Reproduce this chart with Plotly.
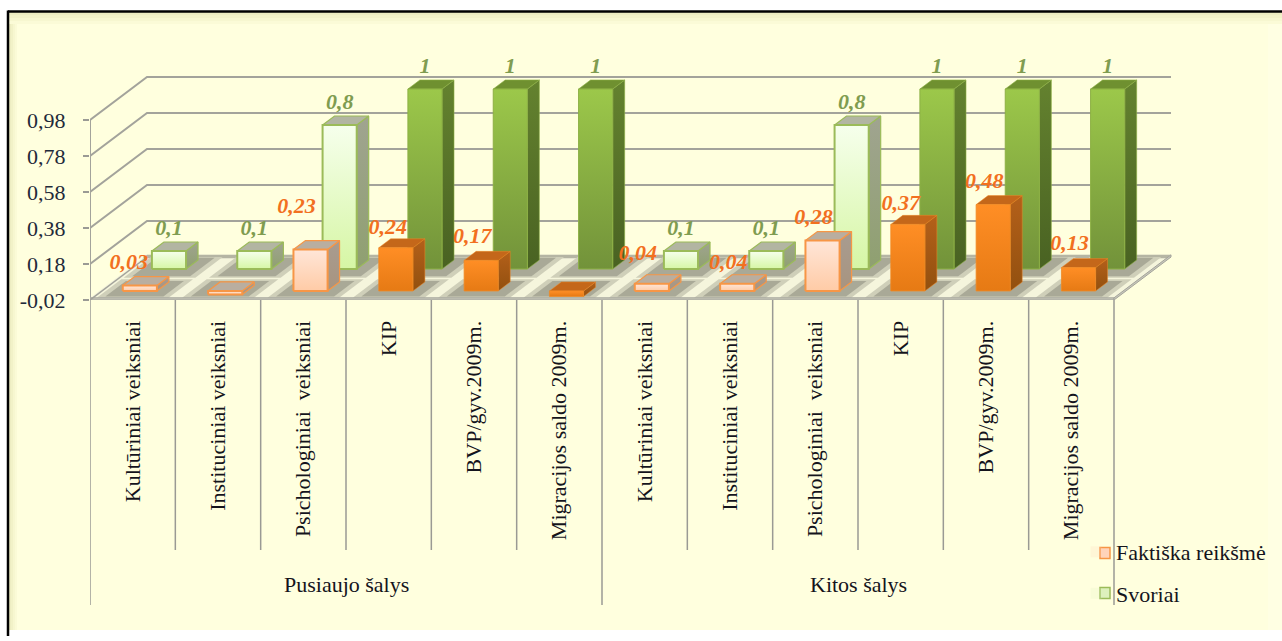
import plotly.graph_objects as go

# ---- data ----
categories = ["Kultūriniai veiksniai", "Instituciniai veiksniai", "Psichologiniai  veiksniai",
              "KIP", "BVP/gyv.2009m.", "Migracijos saldo 2009m."] * 2
groups = ["Pusiaujo šalys", "Kitos šalys"]
actual_values = [0.03, -0.02, 0.23, 0.24, 0.17, -0.03, 0.04, 0.04, 0.28, 0.37, 0.48, 0.13]
actual_labels = ["0,03", "-0,02", "0,23", "0,24", "0,17", "-0,03", "0,04", "0,04", "0,28", "0,37", "0,48", "0,13"]
weight_values = [0.1, 0.1, 0.8, 1, 1, 1, 0.1, 0.1, 0.8, 1, 1, 1]
weight_labels = ["0,1", "0,1", "0,8", "1", "1", "1", "0,1", "0,1", "0,8", "1", "1", "1"]
y_ticks = [-0.02, 0.18, 0.38, 0.58, 0.78, 0.98]
y_tick_labels = ["-0,02", "0,18", "0,38", "0,58", "0,78", "0,98"]
series_names = ["Faktiška reikšmė", "Svoriai"]

# ---- geometry / style ----
W, H = 1282, 641
LEFT, AXIS_Y = 90, 300          # pixel position of plot origin
PX_X, PX_Y = 1024 / 12, 180     # pixels per category / per value unit
DX, DY = 57 / PX_X, 43 / PX_Y   # chart depth in data units
HALF = 0.2                      # half bar width (categories)
FRONT_T = (0.126, 0.336)        # depth span of the front series
BACK_T = (0.637, 0.847)         # depth span of the back series
FLOOR_TOP = -0.008
BASE = -0.02
BG = "#FFFFDE"
SERIF = "Liberation Serif"
FS = 22
TXT = "#14141C"

PALE_O = dict(front=["#FFE6D8", "#FFCBA6"], side=["#A89C90", "#A8947F"], top="#B9AEA0", line="#F79646", lw=2)
SAT_O = dict(front=["#FF8E25", "#E67A14"], side=["#B4601A", "#92500F"], top="#C4671A", line="#F08A25", lw=0.8)
PALE_G = dict(front=["#F6FFEC", "#D6F6A4"], side=["#A0A490", "#8FA070"], top="#B2B5A2", line="#9BBB59", lw=2)
SAT_G = dict(front=["#9CC84A", "#72923A"], side=["#64822F", "#496222"], top="#6F9030", line="#8DB045", lw=1)
ORANGE_STYLE = [PALE_O] * 3 + [SAT_O] * 3 + [PALE_O] * 3 + [SAT_O] * 3
GREEN_STYLE = [PALE_G] * 3 + [SAT_G] * 3 + [PALE_G] * 3 + [SAT_G] * 3
# label nudges in pixels, relative to the bar's top-centre
ORANGE_NUDGE = [(-11, -22), (-26, 25), (-14, -42), (-8, -19), (-9, -23), (-33, 22),
                (-14, -29), (-9, -20), (-9, -22), (-7, -20), (-9, -22), (-9, -23)]

fig = go.Figure()


def poly(xs, ys, fill, line=None, lw=0, grad=None):
    tr = dict(x=list(xs) + [xs[0]], y=list(ys) + [ys[0]], mode="lines", fill="toself",
              showlegend=False, hoverinfo="skip",
              line=dict(color=line or "rgba(0,0,0,0)", width=lw))
    if grad:
        tr["fillgradient"] = dict(type="vertical", colorscale=[[0, grad[1]], [1, grad[0]]])
    else:
        tr["fillcolor"] = fill
    fig.add_trace(go.Scatter(**tr))


def seg(xs, ys, color="#A3A39B", w=2):
    fig.add_trace(go.Scatter(x=xs, y=ys, mode="lines", showlegend=False, hoverinfo="skip",
                             line=dict(color=color, width=w)))


def floor_quad(x0, x1, t0, t1, fill):
    z = FLOOR_TOP
    poly([x0 + t0 * DX, x1 + t0 * DX, x1 + t1 * DX, x0 + t1 * DX],
         [z + t0 * DY, z + t0 * DY, z + t1 * DY, z + t1 * DY], fill)


def bar(i, v, t, st):
    c = i + 0.5
    x0, x1 = c - HALF, c + HALF
    hi, lo = max(v, 0), min(v, 0)
    ox, oy = t[0] * DX, t[0] * DY
    bx, by = (t[1] - t[0]) * DX, (t[1] - t[0]) * DY
    # side, top, front
    poly([x1 + ox, x1 + ox + bx, x1 + ox + bx, x1 + ox], [lo + oy, lo + oy + by, hi + oy + by, hi + oy],
         None, st["line"], st["lw"] * 0.6, grad=st["side"])
    poly([x0 + ox, x1 + ox, x1 + ox + bx, x0 + ox + bx], [hi + oy, hi + oy, hi + oy + by, hi + oy + by],
         st["top"], st["line"], st["lw"] * 0.6)
    poly([x0 + ox, x1 + ox, x1 + ox, x0 + ox], [lo + oy, lo + oy, hi + oy, hi + oy],
         None, st["line"], st["lw"], grad=st["front"])


# walls: back grid + left diagonal grid + vertical axis
for tk in y_ticks:
    seg([0, DX, 12 + DX], [tk, tk + DY, tk + DY])
seg([0, 0], [y_ticks[0], y_ticks[-1]])

# floor slab
poly([0, 12, 12 + DX, DX], [FLOOR_TOP, FLOOR_TOP, FLOOR_TOP + DY, FLOOR_TOP + DY], "#F5F5DC")
floor_quad(0, 12, 0.92, 1.0, "#B5B5A3")
for i in range(12):
    floor_quad(i + 0.08, i + 0.92, 0.0, 0.43, "#CFCFB9")
    floor_quad(i + 0.08, i + 0.92, 0.47, 0.95, "#CFCFB9")
    floor_quad(i + 0.16, i + 0.84, 0.03, 0.39, "#A9A997")
    floor_quad(i + 0.16, i + 0.84, 0.5, 0.93, "#A9A997")
poly([0, 12, 12, 0], [BASE, BASE, FLOOR_TOP, FLOOR_TOP], "#C8C8BA", "#A3A39B", 1)
poly([12, 12 + DX, 12 + DX, 12], [BASE, BASE + DY, FLOOR_TOP + DY, FLOOR_TOP], "#C8C8BA", "#A3A39B", 1)
seg([0, DX], [BASE, BASE + DY], "#A3A39B", 1.5)

# bars, back series first
for i, v in enumerate(weight_values):
    bar(i, v, BACK_T, GREEN_STYLE[i])
for i, v in enumerate(actual_values):
    bar(i, v, FRONT_T, ORANGE_STYLE[i])

# data labels
fig.add_trace(go.Scatter(
    x=[i + 0.5 + BACK_T[0] * DX for i in range(12)],
    y=[v + BACK_T[0] * DY + 22 / PX_Y for v in weight_values],
    text=weight_labels, mode="text", textposition="middle center", cliponaxis=False,
    showlegend=False, hoverinfo="skip",
    textfont=dict(family=SERIF, size=FS, style="italic", weight="bold", color="#7F9C50")))
fig.add_trace(go.Scatter(
    x=[i + 0.5 + FRONT_T[0] * DX + ORANGE_NUDGE[i][0] / PX_X for i in range(12)],
    y=[max(v, 0) + FRONT_T[0] * DY - ORANGE_NUDGE[i][1] / PX_Y for i, v in enumerate(actual_values)],
    text=actual_labels, mode="text", textposition="middle center", cliponaxis=False,
    showlegend=False, hoverinfo="skip",
    textfont=dict(family=SERIF, size=FS, style="italic", weight="bold", color="#F2701F")))

# legend entries (the keys sit closer to the text than Plotly's legend allows, so they are drawn as shapes)
LEGEND_COLORS = [("#FFD4BA", "#F79646"), ("#DDF0BC", "#9BBB59")]
for k, name in enumerate(series_names):
    fig.add_trace(go.Scatter(x=[None], y=[None], mode="markers", name=name, legendgroup=name,
                             marker=dict(symbol="square", size=11, color=LEGEND_COLORS[k][0], opacity=0)))


def px(x):
    return (x - LEFT) / (W - LEFT)


def py(y):
    return (AXIS_Y - y) / AXIS_Y


shapes = [dict(type="rect", xref="paper", yref="paper", x0=px(8), x1=px(W), y0=py(11), y1=py(630),
               fillcolor=BG, line=dict(width=0), layer="below"),
          dict(type="rect", xref="paper", yref="paper", x0=px(1268), x1=px(W), y0=py(24), y1=py(630),
               fillcolor="#FFFFE3", line=dict(width=0), layer="below")]
for k, col in enumerate(["#EDEDC2", "#F2F2C8", "#F7F7D0", "#FBFBD7"]):
    shapes.append(dict(type="rect", xref="paper", yref="paper", x0=px(8), x1=px(W),
                       y0=py(12 + 3 * k), y1=py(15 + 3 * k), fillcolor=col, line=dict(width=0), layer="below"))
    shapes.append(dict(type="rect", xref="paper", yref="paper", x0=px(9 + 2 * k), x1=px(11 + 2 * k),
                       y0=py(12 + 3 * k), y1=py(630), fillcolor=col, line=dict(width=0), layer="below"))
shapes.append(dict(type="line", xref="paper", yref="paper", x0=px(8), x1=px(W), y0=py(11.5), y1=py(11.5),
                   line=dict(color="#000000", width=2.5), layer="below"))
shapes.append(dict(type="line", xref="paper", yref="paper", x0=px(8), x1=px(8), y0=py(10.5), y1=py(636),
                   line=dict(color="#000000", width=2.5), layer="below"))
# multi-level category separators
for i in range(13):
    bottom = 605 if i in (0, 6, 12) else 550
    shapes.append(dict(type="line", xref="x", yref="paper", x0=i, x1=i, y0=py(AXIS_Y), y1=py(bottom),
                       line=dict(color="#9A9A94", width=1.5)))
# legend keys
for k, top in enumerate([547.5, 587.5]):
    shapes.append(dict(type="rect", xref="paper", yref="paper", x0=px(1100), x1=px(1110), y0=py(top),
                       y1=py(top + 11), fillcolor=LEGEND_COLORS[k][0],
                       line=dict(color=LEGEND_COLORS[k][1], width=1.5)))

annotations = [dict(x=3 + 6 * k, y=py(584), xref="x", yref="paper", text=g, showarrow=False,
                    font=dict(family=SERIF, size=FS, color=TXT), xanchor="center", yanchor="middle")
               for k, g in enumerate(groups)]

fig.update_layout(
    width=W, height=H, autosize=False,
    margin=dict(l=LEFT, r=0, t=0, b=H - AXIS_Y, pad=0),
    paper_bgcolor="#FFFFFF", plot_bgcolor="rgba(0,0,0,0)",
    shapes=shapes, annotations=annotations, showlegend=True,
    legend=dict(x=px(1076), y=py(531), xanchor="left", yanchor="top", bgcolor="rgba(0,0,0,0)",
                tracegroupgap=10, font=dict(family=SERIF, size=FS, color=TXT)),
    xaxis=dict(range=[0, (W - LEFT) / PX_X], showgrid=False, zeroline=False, showline=True,
               linecolor="rgba(0,0,0,0)", tickmode="array", tickvals=[i + 0.5 for i in range(12)],
               ticktext=categories, tickangle=-90, ticks="", ticklabelstandoff=11,
               tickfont=dict(family=SERIF, size=FS, color=TXT), fixedrange=True),
    yaxis=dict(range=[-0.02, AXIS_Y / PX_Y - 0.02], showgrid=False, zeroline=False, showline=False,
               tickmode="array", tickvals=y_ticks, ticktext=y_tick_labels, ticks="outside", ticklen=6,
               tickcolor="#9A9A94", tickwidth=1.5, ticklabelstandoff=13,
               tickfont=dict(family=SERIF, size=FS, color="#1F2A3A"), fixedrange=True),
)

fig.write_html("out.html", config=dict(displayModeBar=False),
               post_script="document.body.style.margin='0';document.body.style.overflow='hidden';")
